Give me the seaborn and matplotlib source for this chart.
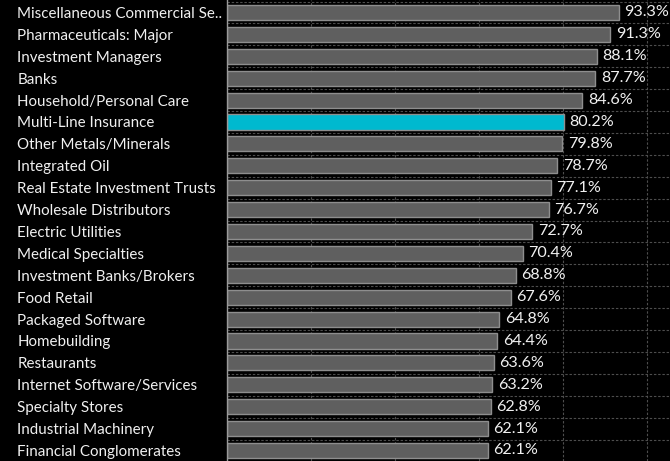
import pandas as pd
import seaborn as sns
import matplotlib.pyplot as plt
from matplotlib.ticker import FixedLocator, MultipleLocator

industries = [
    "Miscellaneous Commercial Se..",
    "Pharmaceuticals: Major",
    "Investment Managers",
    "Banks",
    "Household/Personal Care",
    "Multi-Line Insurance",
    "Other Metals/Minerals",
    "Integrated Oil",
    "Real Estate Investment Trusts",
    "Wholesale Distributors",
    "Electric Utilities",
    "Medical Specialties",
    "Investment Banks/Brokers",
    "Food Retail",
    "Packaged Software",
    "Homebuilding",
    "Restaurants",
    "Internet Software/Services",
    "Specialty Stores",
    "Industrial Machinery",
    "Financial Conglomerates",
]
pct = [93.3, 91.3, 88.1, 87.7, 84.6, 80.2, 79.8, 78.7, 77.1, 76.7, 72.7,
       70.4, 68.8, 67.6, 64.8, 64.4, 63.6, 63.2, 62.8, 62.1, 62.1]
highlight = "Multi-Line Insurance"

df = pd.DataFrame({"industry": industries, "pct": pct})
colors = {c: ("#00b9cf" if c == highlight else "#5f5f5f") for c in industries}

sns.set_theme(style="dark")
plt.rcParams["font.family"] = ["Lato", "DejaVu Sans"]

fig = plt.figure(figsize=(6.7, 4.61), dpi=100, facecolor="black")
ax = fig.add_axes([227 / 670, 0, 443 / 670, 1], facecolor="black")

sns.barplot(
    data=df, y="industry", x="pct", hue="industry", palette=colors,
    orient="h", width=0.69, saturation=1, edgecolor="#8e8e8e",
    linewidth=1, legend=False, ax=ax,
)

for cont in ax.containers:
    ax.bar_label(cont, fmt="%.1f%%", padding=4.0, color="#f0f0f0", fontsize=11.6)

ax.set_xlim(0, 105.5)
ax.set_ylim(20.48, -0.57)

# dashed grid: vertical every 20%, horizontal between the bars
ax.xaxis.set_major_locator(MultipleLocator(20))
ax.yaxis.set_minor_locator(FixedLocator([i + 0.5 for i in range(-1, len(industries))]))
grid_kw = dict(color="#4d4d4d", linestyle=(0, (2.2, 1.6)), linewidth=0.8)
ax.grid(axis="x", which="major", **grid_kw)
ax.grid(axis="y", which="minor", **grid_kw)
ax.grid(axis="y", which="major", visible=False)
ax.set_axisbelow(True)

ax.set_xlabel("")
ax.set_ylabel("")
ax.tick_params(axis="x", labelbottom=False, length=0)
ax.tick_params(axis="y", which="both", length=0, pad=151, labelsize=10.9, labelcolor="#f0f0f0")
for lbl in ax.get_yticklabels():
    lbl.set_horizontalalignment("left")

for side in ["top", "right", "bottom"]:
    ax.spines[side].set_visible(False)
ax.spines["left"].set_color("#9a9a9a")
ax.spines["left"].set_linewidth(1)

fig.savefig("out.png", dpi=100, facecolor="black")
